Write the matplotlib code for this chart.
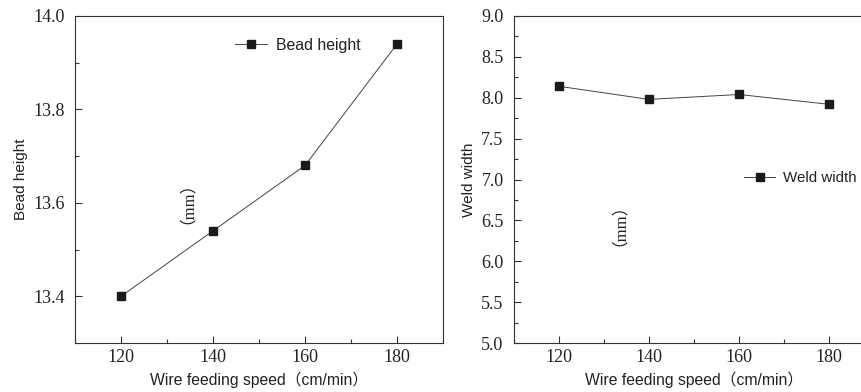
import matplotlib
matplotlib.use("Agg")
import matplotlib.pyplot as plt
from matplotlib.ticker import MultipleLocator

# ---------------- DATA ----------------
speed = [120, 140, 160, 180]
bead_height = [13.40, 13.54, 13.68, 13.94]
weld_width = [8.14, 7.98, 8.04, 7.92]

xlabel = "Wire feeding speed（cm/min）"
sans = ["Liberation Sans", "Noto Sans CJK SC"]
serif = ["Liberation Serif", "Noto Sans CJK SC"]

# tick labels in serif, other text set per item
plt.rcParams["font.family"] = serif

fig = plt.figure(figsize=(8.62, 3.92), dpi=100)
W, H = 862, 392


def add_axes(left, top, right, bottom):
    return fig.add_axes([left / W, 1 - bottom / H, (right - left) / W, (bottom - top) / H])


def style(ax):
    for s in ax.spines.values():
        s.set_color("#333333")
        s.set_linewidth(0.8)
    ax.tick_params(which="both", direction="in", color="#333333", width=0.8,
                   top=False, right=False, labelcolor="#222222")
    ax.tick_params(which="major", length=5, labelsize=13)
    ax.tick_params(which="minor", length=3)
    ax.tick_params(axis="x", pad=4)
    ax.tick_params(axis="y", pad=7.5)
    ax.xaxis.set_major_locator(MultipleLocator(20))
    ax.xaxis.set_minor_locator(MultipleLocator(10))


# ---------------- LEFT: bead height ----------------
ax1 = add_axes(75, 16, 443, 343)
ax1.plot(speed, bead_height, color="#444444", lw=0.7, marker="s", ms=6,
         mfc="#1a1a1a", mec="#1a1a1a", label="Bead height")
ax1.set_xlim(110, 190)
ax1.set_ylim(13.3, 14.0)
ax1.set_yticks([13.4, 13.6, 13.8, 14.0])
ax1.yaxis.set_minor_locator(MultipleLocator(0.1))
style(ax1)
ax1.set_xlabel(xlabel, family=sans, fontsize=11.3, labelpad=4, color="#222222")
ax1.set_ylabel("Bead height", family=sans, fontsize=11, labelpad=4, color="#222222")
ax1.text(132.6, 13.618, "（mm）", family=serif, fontsize=12, rotation=90,
         ha="center", va="center", color="#222222")
ax1.legend(loc="center left", bbox_to_anchor=(0.435, 0.911), frameon=False,
           borderpad=0, borderaxespad=0, handlelength=2.0, handletextpad=0.6,
           prop={"family": sans, "size": 11.4}, labelcolor="#222222")

# ---------------- RIGHT: weld width ----------------
ax2 = add_axes(514, 16, 874, 343)
ax2.plot(speed, weld_width, color="#444444", lw=0.7, marker="s", ms=6,
         mfc="#1a1a1a", mec="#1a1a1a", label="Weld width")
ax2.set_xlim(110, 190)
ax2.set_ylim(5.0, 9.0)
ax2.yaxis.set_major_locator(MultipleLocator(0.5))
ax2.yaxis.set_minor_locator(MultipleLocator(0.25))
style(ax2)
ax2.set_xlabel(xlabel, family=sans, fontsize=11.3, labelpad=4, color="#222222")
ax2.set_ylabel("Weld width", family=sans, fontsize=11, labelpad=4, color="#222222")
ax2.text(131.6, 6.55, "（mm）", family=serif, fontsize=12, rotation=90,
         ha="center", va="center", color="#222222")
ax2.legend(loc="center left", bbox_to_anchor=(0.64, 0.505), frameon=False,
           borderpad=0, borderaxespad=0, handlelength=2.0, handletextpad=0.55,
           prop={"family": sans, "size": 10.9}, labelcolor="#222222")

fig.savefig("out.png", dpi=100)
